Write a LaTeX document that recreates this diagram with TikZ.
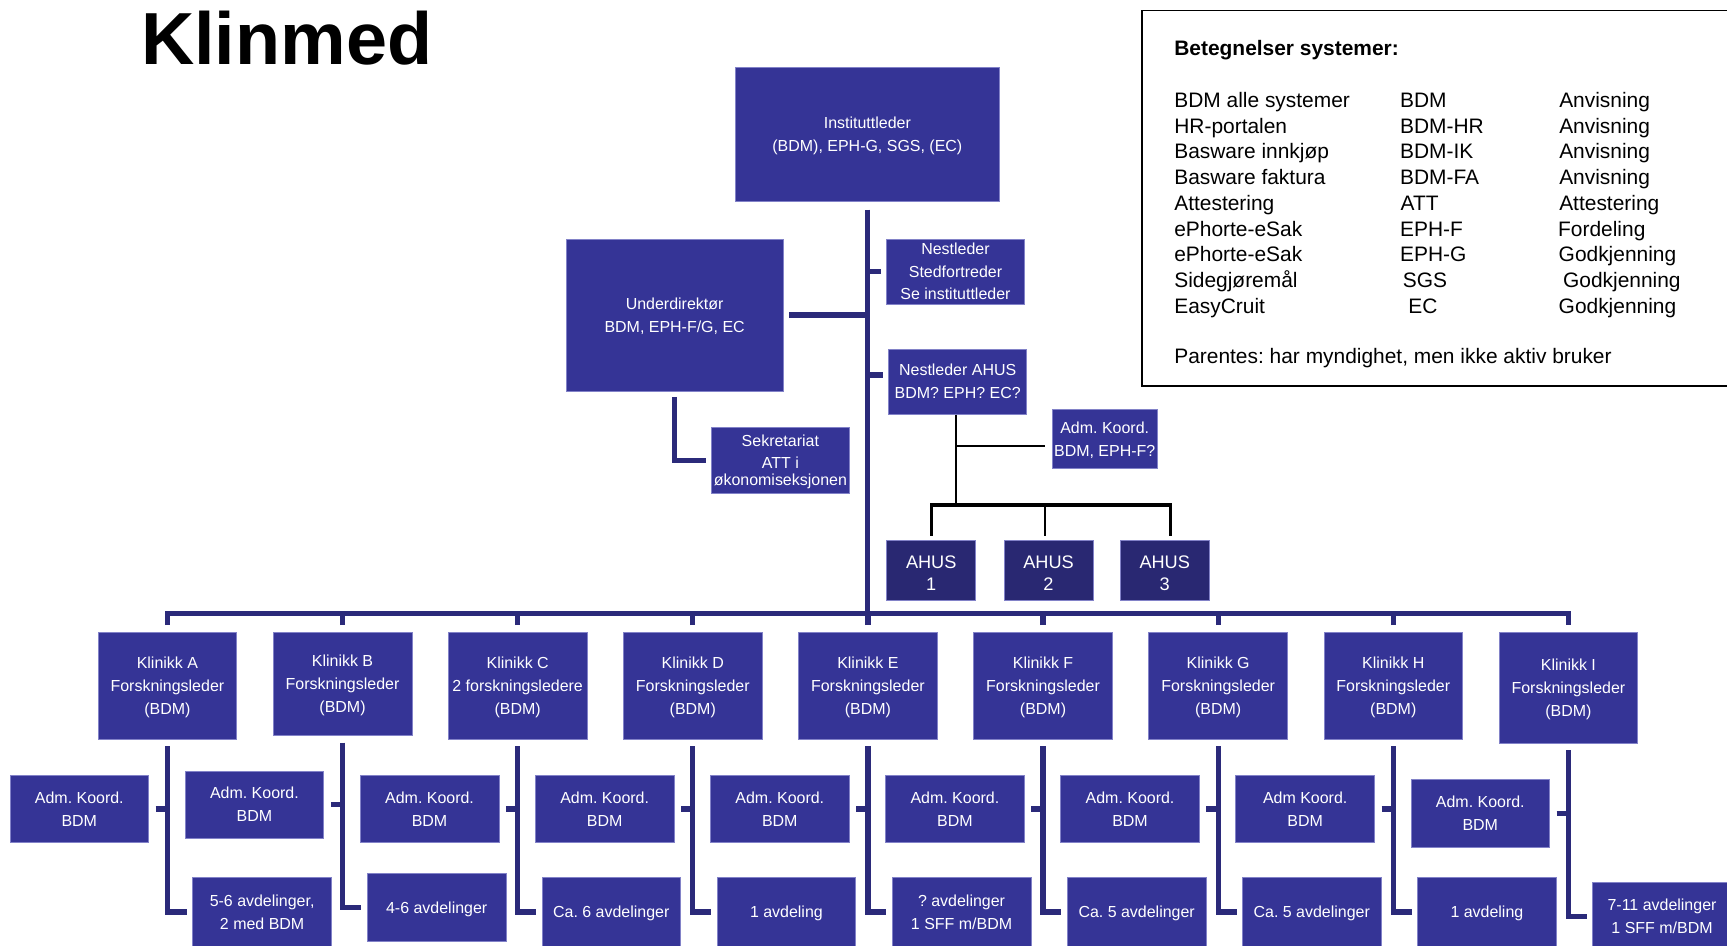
\documentclass[tikz,border=0pt]{standalone}
\usepackage{fontspec}
\setmainfont{Liberation Sans}
\frenchspacing
\definecolor{boxblue}{RGB}{53,52,150}
\definecolor{ahusblue}{RGB}{41,40,114}
\definecolor{lineblue}{RGB}{43,42,122}
\definecolor{edgeblue}{RGB}{130,130,200}
\tikzset{
  box/.style={fill=boxblue, draw=edgeblue, line width=0.7pt, text=white, align=center,
    inner sep=0pt, text depth=0pt, font=\fontsize{14.5}{21}\selectfont},
  clin/.style={box, minimum width=126pt, minimum height=97pt},
  admbox/.style={box, minimum width=126pt, minimum height=61pt},
  botbox/.style={box, minimum width=126pt, minimum height=62pt},
  ahusbox/.style={fill=ahusblue, draw=edgeblue, line width=0.7pt, text=white, align=center,
    inner sep=0pt, text depth=0pt, text height=37pt, font=\fontsize{16.5}{20}\selectfont, minimum width=81pt, minimum height=54pt},
  conn/.style={draw=lineblue, line width=4.7pt, line join=miter},
  bconn/.style={draw=black, line width=2pt},
  bbus/.style={draw=black, line width=3pt, line join=miter},
  legtext/.style={anchor=base west, inner sep=0pt, font=\fontsize{19}{23}\selectfont},
}
\begin{document}
\begin{tikzpicture}[x=1pt,y=-1pt]
\useasboundingbox (0,0) rectangle (1568,858);

% title
\node[anchor=base west, inner sep=0pt, font=\fontsize{67}{67}\selectfont\bfseries] (title) at (128,59) {Klinmed};

% legend
\node[draw=black, line width=1.3pt, minimum width=544pt, minimum height=341pt, inner sep=0pt, anchor=north west] (legend) at (1036,9) {};
\node[legtext, font=\fontsize{19}{23}\selectfont\bfseries] (lhead) at (1066,50) {Betegnelser systemer:};
\node[legtext] (l1a) at (1066,97.4) {BDM alle systemer};
\node[legtext] (l1b) at (1271,97.4) {BDM};
\node[legtext] (l1c) at (1415.5,97.4) {Anvisning};
\node[legtext] (l2a) at (1066,120.8) {HR-portalen};
\node[legtext] (l2b) at (1271,120.8) {BDM-HR};
\node[legtext] (l2c) at (1415.5,120.8) {Anvisning};
\node[legtext] (l3a) at (1066,144.2) {Basware innkjøp};
\node[legtext] (l3b) at (1271,144.2) {BDM-IK};
\node[legtext] (l3c) at (1415.5,144.2) {Anvisning};
\node[legtext] (l4a) at (1066,167.6) {Basware faktura};
\node[legtext] (l4b) at (1271,167.6) {BDM-FA};
\node[legtext] (l4c) at (1415.5,167.6) {Anvisning};
\node[legtext] (l5a) at (1066,191) {Attestering};
\node[legtext] (l5b) at (1271.5,191) {ATT};
\node[legtext] (l5c) at (1415.5,191) {Attestering};
\node[legtext] (l6a) at (1066,214.4) {ePhorte-eSak};
\node[legtext] (l6b) at (1271,214.4) {EPH-F};
\node[legtext] (l6c) at (1414.5,214.4) {Fordeling};
\node[legtext] (l7a) at (1066,237.8) {ePhorte-eSak};
\node[legtext] (l7b) at (1271,237.8) {EPH-G};
\node[legtext] (l7c) at (1415,237.8) {Godkjenning};
\node[legtext] (l8a) at (1066,261.2) {Sidegjøremål};
\node[legtext] (l8b) at (1273.5,261.2) {SGS};
\node[legtext] (l8c) at (1419,261.2) {Godkjenning};
\node[legtext] (l9a) at (1066,284.6) {EasyCruit};
\node[legtext] (l9b) at (1278.5,284.6) {EC};
\node[legtext] (l9c) at (1415,284.6) {Godkjenning};
\node[legtext] (lpar) at (1066,330) {Parentes: har myndighet, men ikke aktiv bruker};

% top part
\node[box, minimum width=239pt, minimum height=122pt] (inst) at (787.5,122) {Instituttleder\\(BDM), EPH-G, SGS, (EC)};
\node[box, minimum width=197pt, minimum height=138pt] (under) at (612.5,286) {Underdirektør\\BDM, EPH-F/G, EC};
\node[box, minimum width=125pt, minimum height=59pt, font=\fontsize{14.5}{20.5}\selectfont] (nest) at (867.5,246.5) {Nestleder\\Stedfortreder\\Se instituttleder};
\node[box, minimum width=125pt, minimum height=59pt] (nahus) at (869.5,346.5) {Nestleder AHUS\\BDM? EPH? EC?};
\node[box, minimum width=125pt, minimum height=60pt] (sekr) at (708.5,418) {Sekretariat\\[-1pt]ATT i\\[-6pt]økonomiseksjonen};
\node[box, minimum width=95pt, minimum height=53pt] (admahus) at (1003,398.5) {Adm. Koord.\\BDM, EPH-F?};
\node[ahusbox] (ah1) at (845.5,518) {AHUS\\1};
\node[ahusbox] (ah2) at (952,518) {AHUS\\2};
\node[ahusbox] (ah3) at (1057.5,518) {AHUS\\3};

% clinics
\node[clin] (A) at (152,622.5) {Klinikk A\\Forskningsleder\\(BDM)};
\node[clin, minimum height=94pt] (B) at (311,621) {Klinikk B\\Forskningsleder\\(BDM)};
\node[clin] (C) at (470,622.5) {Klinikk C\\2 forskningsledere\\(BDM)};
\node[clin] (D) at (629,622.5) {Klinikk D\\Forskningsleder\\(BDM)};
\node[clin] (E) at (788,622.5) {Klinikk E\\Forskningsleder\\(BDM)};
\node[clin] (F) at (947,622.5) {Klinikk F\\Forskningsleder\\(BDM)};
\node[clin] (G) at (1106,622.5) {Klinikk G\\Forskningsleder\\(BDM)};
\node[clin] (H) at (1265,622.5) {Klinikk H\\Forskningsleder\\(BDM)};
\node[clin, minimum height=101pt] (I) at (1424,624.5) {Klinikk I\\Forskningsleder\\(BDM)};

\node[admbox] (admA) at (72,734.5) {Adm. Koord.\\BDM};
\node[admbox] (admB) at (231,730.5) {Adm. Koord.\\BDM};
\node[admbox] (admC) at (390,734.5) {Adm. Koord.\\BDM};
\node[admbox] (admD) at (549,734.5) {Adm. Koord.\\BDM};
\node[admbox] (admE) at (708,734.5) {Adm. Koord.\\BDM};
\node[admbox] (admF) at (867,734.5) {Adm. Koord.\\BDM};
\node[admbox] (admG) at (1026,734.5) {Adm. Koord.\\BDM};
\node[admbox] (admH) at (1185,734.5) {Adm Koord.\\BDM};
\node[admbox] (admI) at (1344,738.5) {Adm. Koord.\\BDM};

\node[botbox] (botA) at (238,828) {5-6 avdelinger,\\2 med BDM};
\node[botbox] (botB) at (396.5,824) {4-6 avdelinger};
\node[botbox] (botC) at (555,828) {Ca. 6 avdelinger};
\node[botbox] (botD) at (714,828) {1 avdeling};
\node[botbox] (botE) at (873,828) {? avdelinger\\1 SFF m/BDM};
\node[botbox] (botF) at (1032,828) {Ca. 5 avdelinger};
\node[botbox] (botG) at (1191,828) {Ca. 5 avdelinger};
\node[botbox] (botH) at (1350,828) {1 avdeling};
\node[botbox] (botI) at (1509,832) {7-11 avdelinger\\1 SFF m/BDM};

% connectors, blue
\coordinate (bus) at (788,557);
\draw[conn] ([yshift=-7pt]inst.south) -- (inst.south |- bus);
\draw[conn] ([xshift=5pt]under.east) -- (under.east -| inst.south);
\draw[conn] (nest.west -| inst.south) -- ([xshift=-5pt]nest.west);
\draw[conn] ([yshift=6pt]nahus.west -| inst.south) -- ([xshift=-5pt,yshift=6pt]nahus.west);
\draw[conn] ([yshift=-5pt]under.south) |- ([xshift=-5pt]sekr.west);
\draw[conn] ([yshift=6pt]A.north) -- (A.north |- bus) -- (I.north |- bus) -- ([yshift=6pt]I.north);
\foreach \k in {B,C,D,E,F,G,H} {
  \draw[conn] ([yshift=6pt]\k.north) -- (\k.north |- bus);
}
\foreach \k in {A,B,C,D,E,F,G,H,I} {
  \draw[conn] ([yshift=-6pt]\k.south) -- (\k.south |- bot\k.west) -- ([xshift=-5pt]bot\k.west);
  \draw[conn] ([xshift=6pt]adm\k.east) -- (adm\k.east -| \k.south);
}

% connectors, black (AHUS)
\coordinate (ahusbus) at (868,458.5);
\draw[bconn] ([xshift=-1.5pt]nahus.south) -- ([xshift=-1.5pt]nahus.south |- ahusbus);
\draw[bconn] ([xshift=-1.5pt,yshift=-6.5pt]nahus.south |- admahus.west) -- ([xshift=-6pt,yshift=-6.5pt]admahus.west);
\draw[bbus] ([yshift=4pt]ah1.north) -- (ah1.north |- ahusbus) -- ([xshift=5pt]ah3.north |- ahusbus) -- ([xshift=5pt,yshift=4pt]ah3.north);
\draw[bconn] ([xshift=-3pt,yshift=4pt]ah2.north) -- ([xshift=-3pt]ah2.north |- ahusbus);
\end{tikzpicture}
\end{document}
